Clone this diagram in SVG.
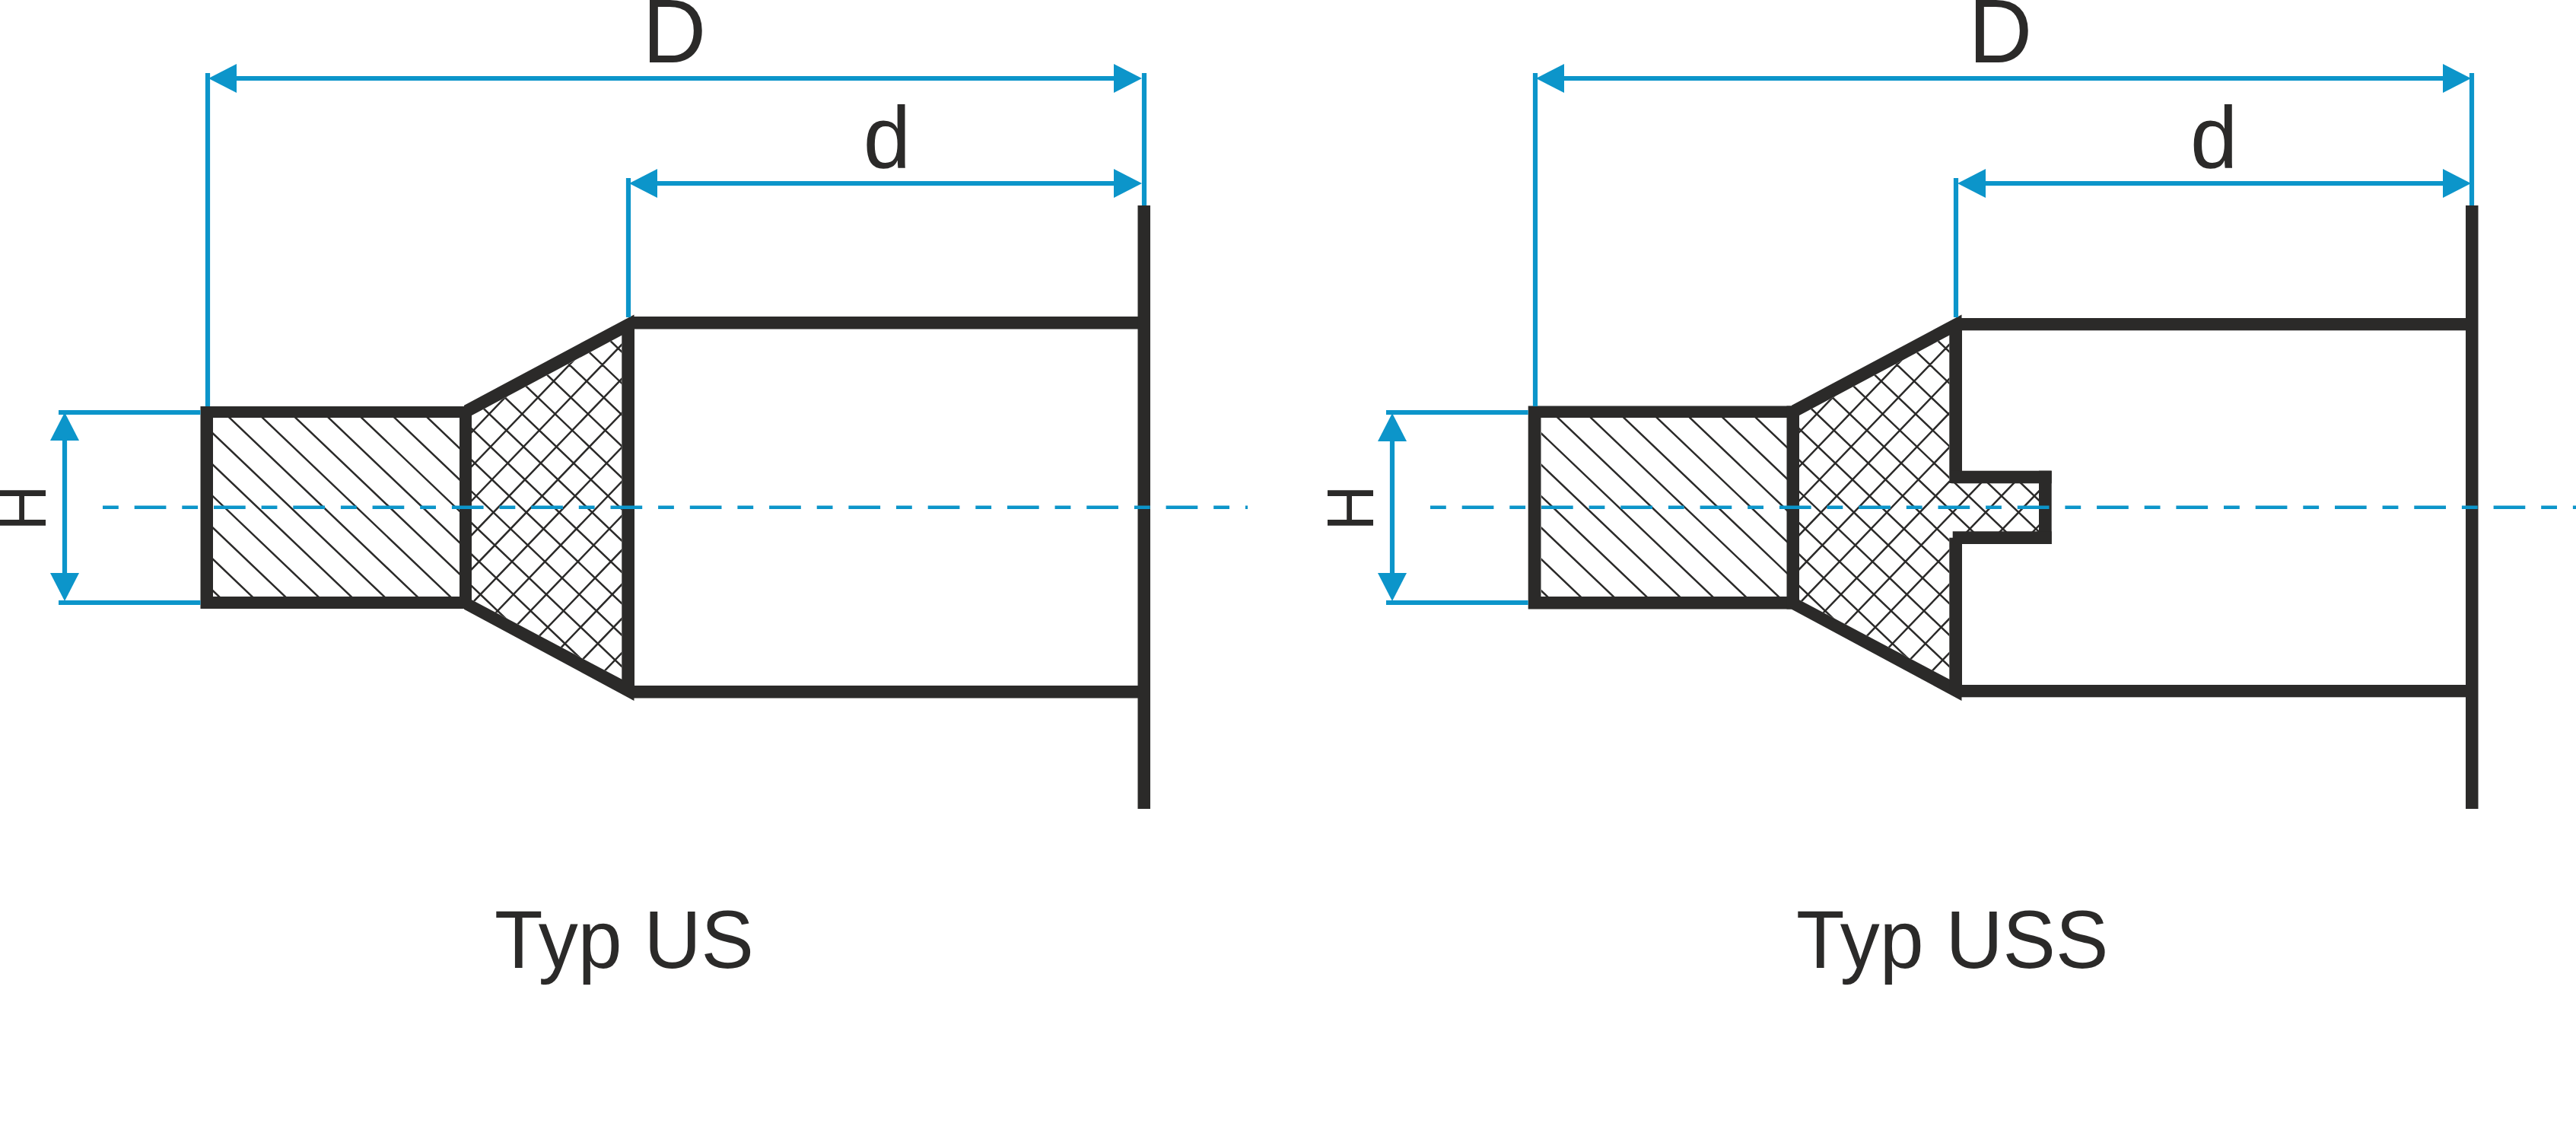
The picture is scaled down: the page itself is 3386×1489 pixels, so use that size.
<svg xmlns="http://www.w3.org/2000/svg" xmlns:xlink="http://www.w3.org/1999/xlink" width="3386" height="1489" viewBox="0 0 3386 1489">
<style>
.k{fill:#2b2a29}
.h{fill:none;stroke:#2b2a29;stroke-width:2.5}
.b{fill:none;stroke:#0c95ca;stroke-width:6.2}
.a{marker-start:url(#ah);marker-end:url(#ah)}
.c{fill:none;stroke:#0c95ca;stroke-width:4.4;stroke-dasharray:20.8 20.9 41.7 20.9}
text{font-family:"Liberation Sans",Arial,sans-serif;fill:#2b2a29}
.t{font-size:104px}
.D{font-size:116px}
.d{font-size:112px}
.H{font-size:83px;text-anchor:middle}
</style>
<defs>
<marker id="ah" markerUnits="userSpaceOnUse" markerWidth="37" markerHeight="38" viewBox="0 0 37 38" refX="27" refY="19" orient="auto-start-reverse"><path d="M37 19L0 0V38Z" fill="#0c95ca"/></marker>
<clipPath id="cs1"><rect x="280" y="549" width="324" height="235"/></clipPath>
<clipPath id="cx1"><path d="M620 546L817.3 440.7V892.7L620 788.3Z"/></clipPath>
<clipPath id="cs2"><rect x="2026" y="549" width="323" height="235"/></clipPath>
<clipPath id="cx2"><path d="M2365 546L2562.3 440.7V632H2680V702H2562.3V892.7L2365 788.3Z"/></clipPath>
<path id="diag" class="h" d="M-10.1 500l367.3 350M33.3 500l367.3 350M76.7 500l367.3 350M120.1 500l367.3 350M163.5 500l367.3 350M206.9 500l367.3 350M250.3 500l367.3 350M293.7 500l367.3 350M337.1 500l367.3 350M380.5 500l367.3 350M423.9 500l367.3 350M467.3 500l367.3 350M510.7 500l367.3 350"/>
<path id="cross" class="h" d="M145.8 400l575.9 550M189.1 400l575.9 550M232.4 400l575.9 550M275.7 400l575.9 550M319 400l575.9 550M362.3 400l575.9 550M405.6 400l575.9 550M448.9 400l575.9 550M492.2 400l575.9 550M535.5 400l575.9 550M578.8 400l575.9 550M622.1 400l575.9 550M665.4 400l575.9 550M708.7 400l575.9 550M752 400l575.9 550M651.6 400l-528.8 550M694.9 400l-528.8 550M738.2 400l-528.8 550M781.5 400l-528.8 550M824.8 400l-528.8 550M868.1 400l-528.8 550M911.4 400l-528.8 550M954.7 400l-528.8 550M998 400l-528.8 550M1041.3 400l-528.8 550M1084.6 400l-528.8 550M1127.9 400l-528.8 550M1171.2 400l-528.8 550M1214.5 400l-528.8 550M1257.8 400l-528.8 550M1301.1 400l-528.8 550"/>
</defs>
<g id="part-us">
<g clip-path="url(#cs1)"><use href="#diag"/></g>
<g clip-path="url(#cx1)"><use href="#cross"/></g>
<path class="k" d="M263.5 534H620V800H263.5ZM280 549V784H604V549Z" fill-rule="evenodd"/>
<rect class="k" x="604" y="534" width="16" height="266"/>
<path class="k" d="M610 532.7L833.5 413.4V432L620 546H610Z"/>
<path class="k" d="M610 800.7L833.5 921V901.3L620 788.3H610Z"/>
<rect class="k" x="817.3" y="428" width="16.7" height="478"/>
<rect class="k" x="830" y="416" width="670" height="16.5"/>
<rect class="k" x="830" y="901" width="670" height="16.5"/>
<rect class="k" x="1495.5" y="270" width="16.5" height="793"/>
</g>
<g id="part-uss">
<g clip-path="url(#cs2)"><use href="#diag" transform="translate(1746 0)"/></g>
<g clip-path="url(#cx2)"><use href="#cross" transform="translate(1745 0)"/></g>
<path class="k" d="M2008.7 533.5H2365V800.5H2008.7ZM2025.5 549V784H2349V549Z" fill-rule="evenodd"/>
<rect class="k" x="2348.5" y="533.5" width="16.5" height="267"/>
<path class="k" d="M2355 532.7L2578.5 413.4V432L2365 546H2355Z"/>
<path class="k" d="M2355 800.7L2578.5 921V901.3L2365 788.3H2355Z"/>
<rect class="k" x="2562.3" y="428" width="16.7" height="207"/>
<rect class="k" x="2562.3" y="706.7" width="16.7" height="199"/>
<rect class="k" x="2565" y="618.7" width="131.7" height="16.6"/>
<rect class="k" x="2680" y="618.7" width="16.7" height="96.3"/>
<rect class="k" x="2566.7" y="698.3" width="130" height="16.7"/>
<rect class="k" x="2575" y="418" width="670" height="16.3"/>
<rect class="k" x="2575" y="900" width="670" height="16.3"/>
<rect class="k" x="3241" y="270" width="16.5" height="793"/>
</g>
<g id="connectors">
<path class="b" d="M273 96V534M826 234V417M1504 96V270M77 542H263.5M77 792H263.5"/>
<line class="b a" x1="284" y1="103" x2="1491" y2="103"/>
<line class="b a" x1="837" y1="241" x2="1491" y2="241"/>
<line class="b a" x1="85" y1="552" x2="85" y2="780"/>
<path class="c" d="M135 666.8H1640"/>
<path class="b" d="M2018 96V534M2571 234V417M3249 96V270M1822 542H2008.7M1822 792H2008.7"/>
<line class="b a" x1="2029" y1="103" x2="3238" y2="103"/>
<line class="b a" x1="2583" y1="241" x2="3238" y2="241"/>
<line class="b a" x1="1830" y1="553" x2="1830" y2="780"/>
<path class="c" d="M1880 666.8H3386"/>
</g>
<g id="labels">
<text class="D" transform="translate(844.5 82.3) scale(1 1.02)">D</text>
<text class="d" transform="translate(1134.8 219.5) scale(1 1.02)">d</text>
<text class="H" transform="translate(60 667.5) rotate(-90) scale(1 1.04)">H</text>
<text class="t" transform="translate(650 1272) scale(1 1.04)">Typ US</text>
<text class="D" transform="translate(2587.5 82.3) scale(1 1.02)">D</text>
<text class="d" transform="translate(2879 219.5) scale(1 1.02)">d</text>
<text class="H" transform="translate(1805 667.5) rotate(-90) scale(1 1.04)">H</text>
<text class="t" transform="translate(2361 1272) scale(1 1.04)">Typ USS</text>
</g>
</svg>
